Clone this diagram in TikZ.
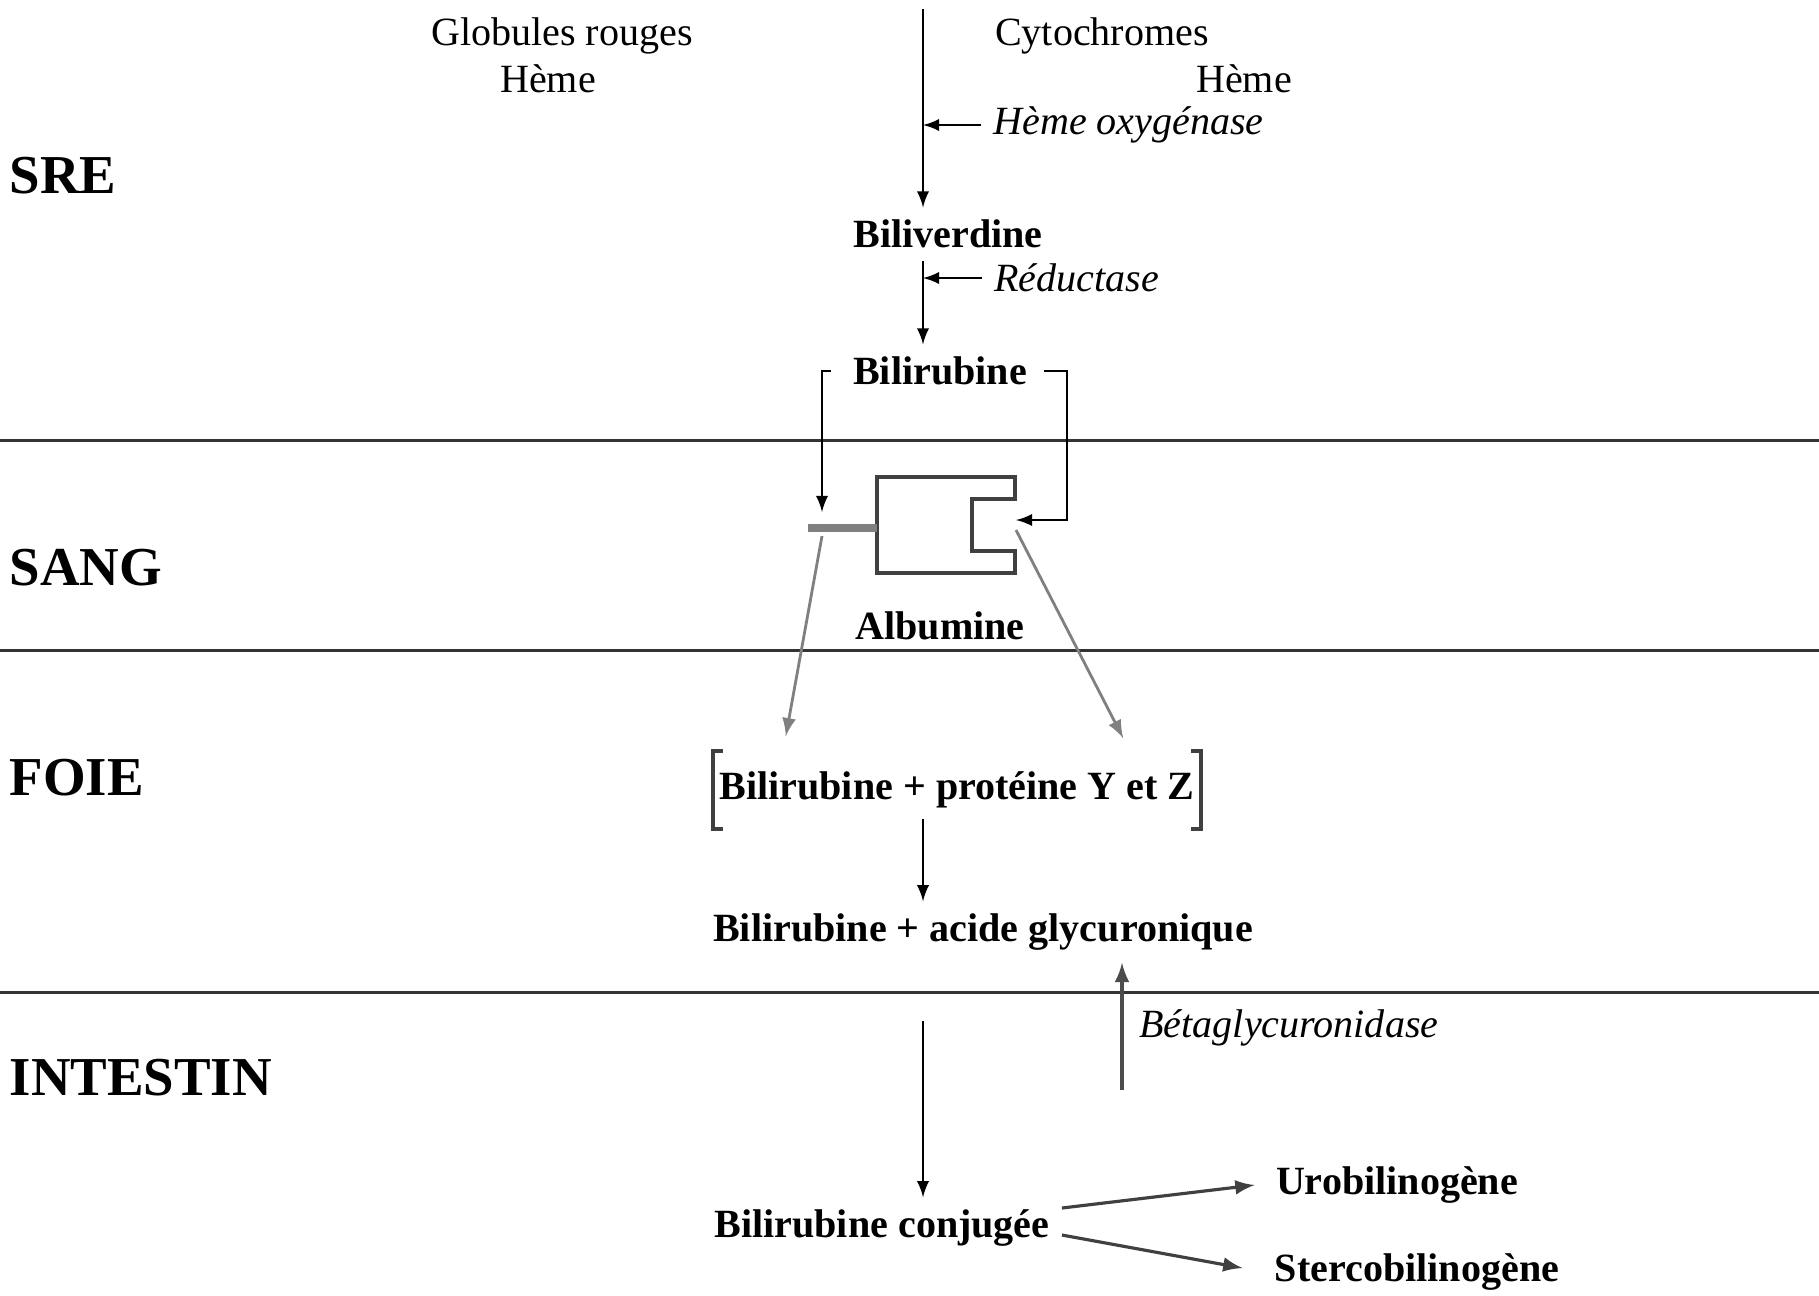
\documentclass[tikz,border=0pt]{standalone}
\usepackage{fontspec}
\setmainfont{Liberation Serif}
\usetikzlibrary{arrows}

\tikzset{
  sect/.style={font=\fontsize{15.6}{18}\selectfont\bfseries, anchor=west, inner sep=0pt},
  mol/.style={font=\fontsize{11.4}{13.7}\selectfont\bfseries},
  enz/.style={font=\fontsize{11.4}{13.7}\selectfont\itshape, anchor=west},
  txt/.style={font=\fontsize{11.4}{13.7}\selectfont},
  flow/.style={-latex, line width=0.6pt},
  grayflow/.style={-latex, line width=0.8pt, gray},
  sep/.style={line width=0.85pt, black!80}
}

\begin{document}
\begin{tikzpicture}
        \useasboundingbox (0,0) rectangle (18.19,-12.95);

        % Separations between the zones
        \draw[sep] (0,-4.40) -- (18.19,-4.40);
        \draw[sep] (0,-6.50) -- (18.19,-6.50);
        \draw[sep] (0,-9.92) -- (18.19,-9.92);

        % Zones
        \node[sect] (sre) at (0.09,-1.76) {SRE};
        \node[sect] (sang) at (0.09,-5.68) {SANG};
        \node[sect] (foie) at (0.09,-7.78) {FOIE};
        \node[sect] (intestin) at (0.09,-10.78) {INTESTIN};

        % Origin of the heme
        \node[txt] (globules) at (5.62,-0.36) {Globules rouges};
        \node[txt] (hemeg) at (5.48,-0.79) {Hème};
        \node[txt] (cyto) at (11.02,-0.36) {Cytochromes};
        \node[txt] (hemec) at (12.44,-0.79) {Hème};

        % SRE
        \coordinate (top) at (9.23,-0.09);
        \node[mol] (biliv) at (9.48,-2.34) {Biliverdine};
        \node[mol] (bilir) at (9.40,-3.71) {Bilirubine};
        \node[enz] (oxy) at (9.81,-1.25) {Hème oxygénase};
        \node[enz] (red) at (9.82,-2.78) {Réductase};
        \draw[flow] (top) -- (top |- biliv.north);
        \draw[flow] (oxy.west) -- (top |- oxy.west);
        \draw[flow] (red.west) -- (top |- red.west);
        \draw[flow] (top |- biliv.south) -- (top |- bilir.north);

        % Albumine
        \draw[line width=1.1pt, black!75] (8.77,-4.77) -- (10.15,-4.77) -- (10.15,-4.99)
            -- (9.72,-4.99) -- (9.72,-5.51) -- (10.15,-5.51) -- (10.15,-5.73) -- (8.77,-5.73) -- cycle;
        \draw[line width=2.3pt, gray] (8.08,-5.28) -- (8.77,-5.28);
        \coordinate (stub) at (8.22,-5.28);
        \coordinate (notch) at (10.16,-5.20);
        \node[mol] (albu) at (9.40,-6.26) {Albumine};
        \draw[flow] ([xshift=-0.1cm]bilir.west) -| ([yshift=0.16cm]stub);
        \draw[flow] ([xshift=0.05cm]bilir.east) -- ++(0.23,0) |- (notch);

        % Foie
        \node[mol, inner xsep=0.06cm, minimum height=0.76cm] (pyz) at (9.57,-7.90) {Bilirubine + protéine Y et Z};
        \draw[line width=1.1pt, black!75] ([xshift=0.1cm]pyz.north west) -| (pyz.south west) -- ++(0.1,0);
        \draw[line width=1.1pt, black!75] ([xshift=-0.1cm]pyz.north east) -| (pyz.south east) -- ++(-0.1,0);
        \draw[grayflow] ([yshift=-0.08cm]stub) -- ([shift={(0.73,0.15)}]pyz.north west);
        \draw[grayflow] ([yshift=-0.1cm]notch) -- ([shift={(-0.78,0.13)}]pyz.north east);
        \node[mol] (glyc) at (9.83,-9.32) {Bilirubine + acide glycuronique};
        \draw[flow, shorten <=-0.1cm] (top |- pyz.south) -- (top |- glyc.north);

        % Intestin
        \coordinate (ibase) at (9.23,-10.21);
        \coordinate (bbase) at (11.22,-10.90);
        \node[enz] (beta) at (11.27,-10.28) {Bétaglycuronidase};
        \node[mol] (conj) at (8.82,-12.28) {Bilirubine conjugée};
        \node[mol] (uro) at (13.97,-11.85) {Urobilinogène};
        \node[mol] (sterco) at (14.17,-12.72) {Stercobilinogène};
        \draw[flow] (ibase) -- (conj.north -| ibase);
        \draw[flow, line width=0.9pt, black!70] (bbase) -- (glyc.south -| bbase);
        \draw[flow, line width=0.9pt, black!75] ([yshift=0.2cm]conj.east) -- ([xshift=-0.09cm]uro.west);
        \draw[flow, line width=0.9pt, black!75] ([yshift=-0.07cm]conj.east) -- ([xshift=-0.2cm,yshift=0.04cm]sterco.west);
    \end{tikzpicture}
\end{document}
